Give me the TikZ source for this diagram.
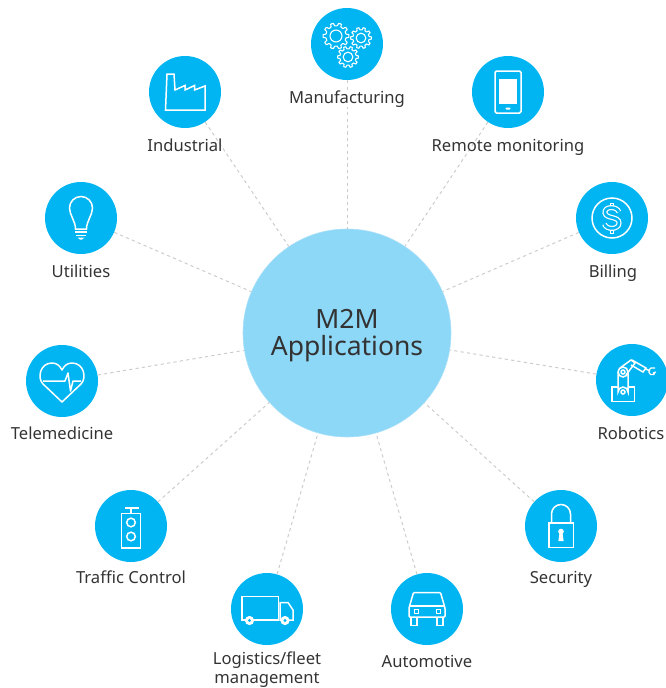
\documentclass[tikz,border=0pt]{standalone}
\usepackage{fontspec}
\setmainfont{Noto Sans}
\newcommand{\mygear}[3]{% cx, cy, outer radius
  \begin{scope}[shift={(#1,#2)}]
    \pgfmathsetmacro{\ro}{#3}
    \pgfmathsetmacro{\ri}{#3*0.78}
    \pgfmathsetmacro{\rh}{#3*0.46}
    \draw (0,0) circle[radius=\rh];
    \foreach \k in {0,1,...,9}{
      \pgfmathsetmacro{\ang}{\k*36}
      \draw[line join=round] (\ang-11:\ri) -- (\ang-6:\ro) -- (\ang+6:\ro) -- (\ang+11:\ri) arc[start angle=\ang+11,delta angle=14,radius=\ri];
    }
  \end{scope}}
\tikzset{
  x=1pt,y=-1pt,
  bluecirc/.style={circle,fill=iconblue,minimum size=72pt,inner sep=0pt,draw=none},
  hubcirc/.style={circle,fill=hubblue,draw=hubedge,line width=0.6pt,minimum size=208pt,inner sep=0pt},
  hubtext/.style={align=center,inner sep=0pt,text=labeltext,font=\fontsize{26.5}{27.5}\selectfont},
  lab/.style={text=labeltext,font=\fontsize{16.6}{18.5}\selectfont,inner sep=0pt,align=center,anchor=base},
  link/.style={draw=linkgray,line width=1pt,dash pattern=on 3.2pt off 3.2pt},
  icon/.style={draw=white,line width=1.5pt,line join=miter}
}
\definecolor{iconblue}{HTML}{00B5F1}
\definecolor{hubblue}{HTML}{8DD7F7}
\definecolor{hubedge}{HTML}{A8E0F9}
\definecolor{labeltext}{HTML}{333333}
\definecolor{linkgray}{HTML}{CCCCCC}
\begin{document}
\begin{tikzpicture}
\useasboundingbox (0,0) rectangle (666,688);
\clip (0,0) rectangle (666,688);
\node[hubcirc] (hub) at (347,333) {};
\node[hubtext] (hubl) at (347,335.5) {M2M\\Applications};
\node[bluecirc] (man) at (347,44) {};
\node[bluecirc] (ind) at (185,92) {};
\node[bluecirc] (rem) at (508,92) {};
\node[bluecirc] (uti) at (81,218) {};
\node[bluecirc] (bil) at (612,218) {};
\node[bluecirc] (tel) at (62,381) {};
\node[bluecirc] (rob) at (632,380) {};
\node[bluecirc] (sec) at (561,526) {};
\node[bluecirc] (tra) at (131,526) {};
\node[bluecirc] (log) at (267,609) {};
\node[bluecirc] (aut) at (427,609) {};
\foreach \n in {man,ind,rem,uti,bil,tel,rob,sec,tra,log,aut}{
  \path[link] (\n) -- (hub);
}
\node[lab,fill=white] (lman) at (347,103.5) {Manufacturing};
\node[lab] (lind) at (185,151.5) {Industrial};
\node[lab] (lrem) at (508,151.5) {Remote monitoring};
\node[lab] (luti) at (81,277.5) {Utilities};
\node[lab] (lbil) at (613,277.5) {Billing};
\node[lab] (ltel) at (62,439) {Telemedicine};
\node[lab] (lrob) at (631,439) {Robotics};
\node[lab] (lsec) at (561,583) {Security};
\node[lab] (ltra) at (131,583) {Traffic Control};
\node[lab,anchor=center] (llog) at (267,669.5) {Logistics/fleet\\management};
\node[lab] (laut) at (427,667) {Automotive};
% gears
\begin{scope}[shift={(man.center)},icon,line width=1.1pt]
  \mygear{-11}{-8}{13}
  \mygear{14}{-6}{10.5}
  \mygear{1}{13}{10.5}
\end{scope}
% factory
\begin{scope}[shift={(ind.center)},icon]
  \draw (-19.5,18) -- (-18,-18) -- (-11,-18) -- (-10,-2) -- (0,-6.5) -- (0,-2) -- (9.5,-6.5) -- (9.5,-2) -- (20,-6) -- (20,18) -- cycle;
\end{scope}
% phone
\begin{scope}[shift={(rem.center)},icon]
  \draw[rounded corners=1.5pt] (-13,-21) rectangle (13,21);
  \fill[white] (-9,-13) rectangle (9,12);
  \fill[white,rounded corners=0.8pt] (-2.5,15.5) rectangle (2.5,17.5);
\end{scope}
% dollar
\begin{scope}[shift={(bil.center)},icon]
  \draw (0,0) circle[radius=20];
  \draw[line width=1pt] (-1.5,-15) rectangle (1.5,-10);
  \draw[line width=1pt] (-1.5,10) rectangle (1.5,15);
  \draw[white,line width=5pt] (7,-6) .. controls (5,-12) and (-8,-12) .. (-7,-5) .. controls (-6,1) and (7,-2) .. (7,5) .. controls (7,12) and (-6,12) .. (-7.5,6);
  \draw[iconblue,line width=2.6pt] (7,-6) .. controls (5,-12) and (-8,-12) .. (-7,-5) .. controls (-6,1) and (7,-2) .. (7,5) .. controls (7,12) and (-6,12) .. (-7.5,6);
\end{scope}
% bulb
\begin{scope}[shift={(uti.center)},icon]
  \draw (-5.5,11) .. controls (-5.5,3) and (-11.5,-3) .. (-11.5,-10) arc[start angle=180,end angle=360,radius=11.5] .. controls (11.5,-3) and (5.5,3) .. (5.5,11) -- cycle;
  \draw (-6,14) -- (6,14);
  \draw (-5,17.5) -- (5,17.5);
  \fill[white] (-3.5,19.5) -- (3.5,19.5) -- (1,21.5) -- (-1,21.5) -- cycle;
\end{scope}
% heart
\begin{scope}[shift={(tel.center)},icon]
  \draw[line join=round] (0,21) -- (-19,3) .. controls (-25,-3) and (-22,-18) .. (-10,-18) .. controls (-5,-18) and (-2,-15) .. (0,-11) .. controls (2,-15) and (5,-18) .. (10,-18) .. controls (22,-18) and (25,-3) .. (19,3) -- cycle;
  \draw[line join=round] (-19,0) -- (3,0) -- (6,-8) -- (8.5,10) -- (11,0) -- (19,0);
\end{scope}
% robot
\begin{scope}[shift={(rob.center)},icon]
  \draw (-20,7) rectangle (2.5,21.5);
  \fill[iconblue] (-14,0) rectangle (-4,17);
  \draw (-14,-8) -- (-14,12) arc[start angle=180,end angle=360,radius=5] -- (-4,-8);
  \draw (-9,12) circle[radius=2];
  \draw (-9,-8) circle[radius=5];
  \draw (-9,-8) circle[radius=2];
  \draw (-12,-12) -- (-1,-20) -- (3,-17) -- (-6,-5);
  \draw (0,-20) -- (14,-12) -- (11,-8) -- (-1,-15);
  \draw (14,-11) -- (18,-9);
  \draw[line width=1.2pt] (23,-12) -- (19,-12) arc[start angle=250,end angle=40,radius=3.5] (21,-7) -- (24,-8);
\end{scope}
% lock
\begin{scope}[shift={(sec.center)},icon]
  \draw (-12,-3) rectangle (12.5,21.5);
  \draw (-9.5,-3) -- (-9.5,-12) arc[start angle=180,end angle=360,radius=9.5] -- (9.5,-3);
  \fill[white] (0,5.5) circle[radius=2.8];
  \fill[white] (-1.4,6) -- (1.4,6) -- (2.6,15) -- (-2.6,15) -- cycle;
\end{scope}
% traffic light
\begin{scope}[shift={(tra.center)},icon]
  \draw (-9.5,-12.5) rectangle (9.5,22);
  \draw (0,-12.5) -- (0,-18);
  \draw (-6.5,-18) -- (7.5,-18);
  \draw (0,-3.5) circle[radius=4.3];
  \draw (0,10.5) circle[radius=4.3];
\end{scope}
% truck
\begin{scope}[shift={(log.center)},icon]
  \draw (-25,-12.5) rectangle (11.5,11);
  \draw (13,-6.5) -- (21,-6.5) -- (26,1) -- (26,11) -- (13,11) -- cycle;
  \fill[white] (-17.5,11.5) circle[radius=4.6];
  \fill[iconblue] (-17.5,11.5) circle[radius=1.6];
  \fill[white] (18,11.5) circle[radius=4.6];
  \fill[iconblue] (18,11.5) circle[radius=1.6];
\end{scope}
% car
\begin{scope}[shift={(aut.center)},icon]
  \draw[rounded corners=1pt] (-18,8) -- (-18,-1) -- (-13.5,-16.5) -- (13.5,-16.5) -- (18,-1) -- (18,8) -- cycle;
  \draw (-18,-3) -- (18,-3);
  \draw (-16,8) -- (-16,16.5) -- (-10,16.5) -- (-10,8);
  \draw (10,8) -- (10,16.5) -- (16,16.5) -- (16,8);
  \draw[line width=0.9pt] (-13,0.5) rectangle (-9,4.5);
  \draw[line width=0.9pt] (9,0.5) rectangle (13,4.5);
\end{scope}
\end{tikzpicture}
\end{document}
